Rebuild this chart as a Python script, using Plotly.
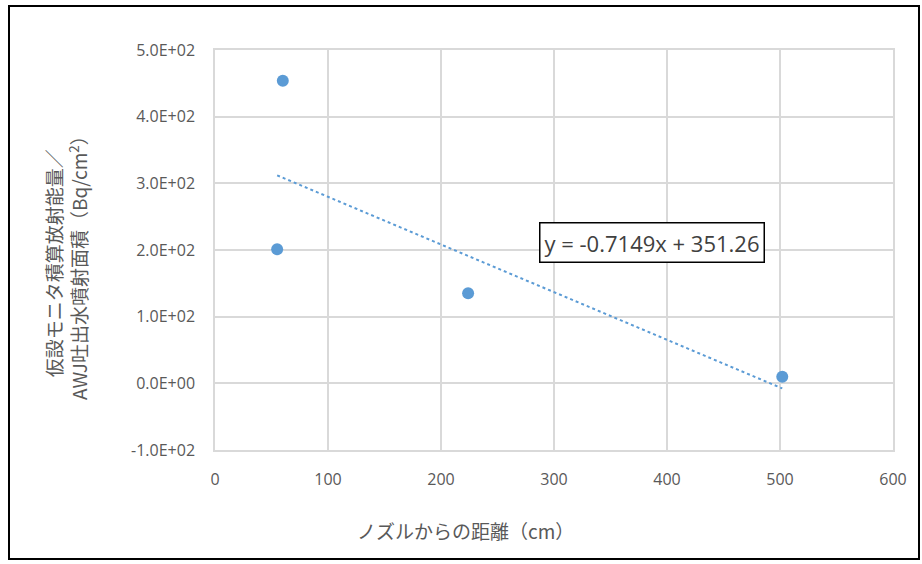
import plotly.graph_objects as go

# Data
distance_cm = [60, 55, 224, 502]
activity = [454, 201, 135, 10]
trend_slope = -0.7149
trend_intercept = 351.26
trend_label = "y = -0.7149x + 351.26"
y_tickvals = [-100, 0, 100, 200, 300, 400, 500]
y_ticktext = ["-1.0E+02", "0.0E+00", "1.0E+02", "2.0E+02", "3.0E+02", "4.0E+02", "5.0E+02"]
x_tickvals = [0, 100, 200, 300, 400, 500, 600]

x_title = "ノズルからの距離（cm）"
y_title = "仮設モニタ積算放射能量／<br>AWJ吐出水噴射面積（Bq/cm<sup>2</sup>）"

blue = "#5b9bd5"
grid = "#d9d9d9"
tickc = "#595959"
jp_font = "Noto Sans CJK JP"
num_font = "Open Sans"

tx = [min(distance_cm), max(distance_cm)]
ty = [trend_slope * v + trend_intercept for v in tx]

fig = go.Figure()
fig.add_trace(go.Scatter(x=tx, y=ty, mode="lines",
                         line=dict(color=blue, width=2, dash="dot"),
                         hoverinfo="skip", showlegend=False))
fig.add_trace(go.Scatter(x=distance_cm, y=activity, mode="markers",
                         marker=dict(color=blue, size=12),
                         showlegend=False))

W, H = 922, 564
L, R, T, B = 215, 29, 50, 114
pw, ph = W - L - R, H - T - B

def px_x(p):
    return (p - L) / pw

def px_y(p):
    return (H - B - p) / ph

fig.update_layout(
    width=W, height=H,
    margin=dict(l=L, r=R, t=T, b=B),
    paper_bgcolor="white", plot_bgcolor="white",
    font=dict(family=num_font, color=tickc, size=16),
    xaxis=dict(range=[0, 600], tickvals=x_tickvals, showgrid=True,
               gridcolor=grid, gridwidth=1.5, zeroline=False,
               showline=True, linecolor=grid, linewidth=1.5,
               ticks="", ticklabelstandoff=14, mirror=True,
               tickfont=dict(family=num_font, size=16, color=tickc)),
    yaxis=dict(range=[-100, 500], tickvals=y_tickvals, ticktext=y_ticktext,
               showgrid=True, gridcolor=grid, gridwidth=1.5, zeroline=False,
               showline=True, linecolor=grid, linewidth=1.5, mirror=True,
               ticks="", ticklabelstandoff=15,
               tickfont=dict(family=num_font, size=16, color=tickc)),
    annotations=[
        dict(x=387, y=211, xref="x", yref="y", text=trend_label,
             xanchor="center", yanchor="middle",
             showarrow=False, font=dict(family=num_font, size=22, color="#404040"),
             bordercolor="black", borderwidth=1.5, borderpad=4,
             bgcolor="white"),
        dict(x=px_x(465), y=px_y(530), xref="paper", yref="paper",
             xanchor="center", yanchor="middle",
             text=x_title, showarrow=False,
             font=dict(family=jp_font, size=19, color=tickc)),
        dict(x=px_x(66), y=px_y(263), xref="paper", yref="paper",
             xanchor="center", yanchor="middle",
             text=y_title, showarrow=False, textangle=-90,
             font=dict(family=jp_font, size=19, color=tickc)),
    ],
    shapes=[
        dict(type="rect", xref="paper", yref="paper",
             x0=px_x(9), x1=px_x(919), y0=px_y(559), y1=px_y(6),
             line=dict(color="black", width=2), layer="below"),
    ],
)

fig.write_html("out.html")
